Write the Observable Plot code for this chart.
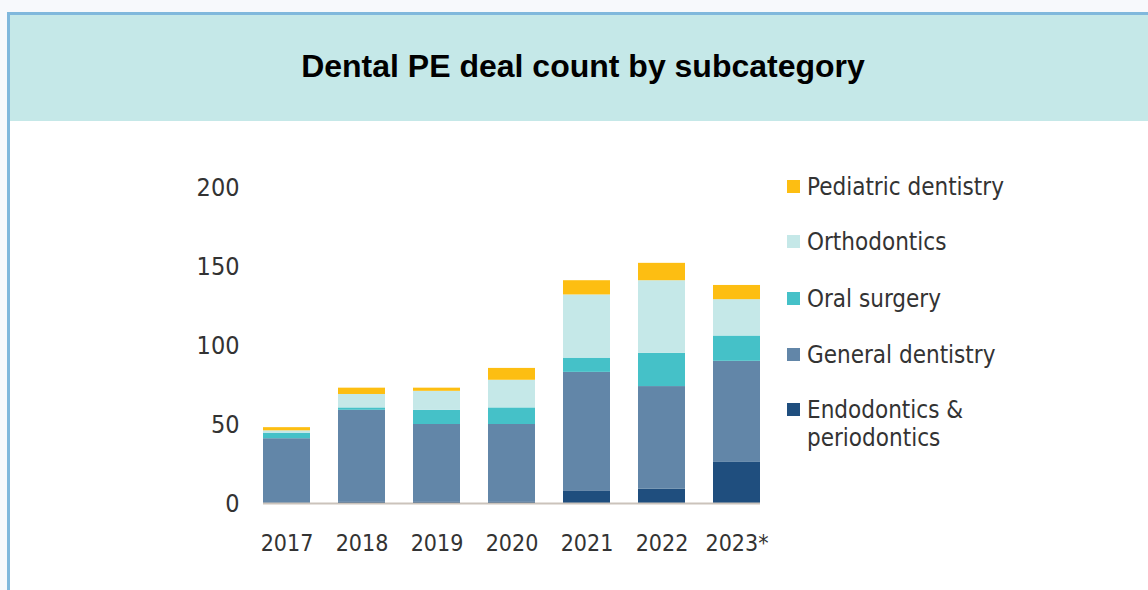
<!DOCTYPE html>
<html>
<head>
<meta charset="utf-8">
<script src="https://cdn.jsdelivr.net/npm/d3@7"></script>
<script src="https://cdn.jsdelivr.net/npm/@observablehq/plot@0.6"></script>
<style>
  html, body { margin: 0; padding: 0; width: 1148px; height: 590px; overflow: hidden; background: #f7f9fc; }
  #card { position: absolute; left: 7px; top: 12px; width: 1141px; height: 578px; background: #ffffff;
          border-left: 3px solid #80b8dc; border-top: 3px solid #80b8dc; box-sizing: border-box; }
  #header { position: absolute; left: 10px; top: 15px; width: 1138px; height: 106px; background: #c5e8e8;
            display: flex; align-items: center; justify-content: center; }
  #header h1 { margin: 0; font-family: "Liberation Sans", Arial, sans-serif; font-weight: bold; font-size: 32px;
               color: #000; padding-left: 8px; padding-bottom: 4px; }
  #chart { position: absolute; left: 10px; top: 121px; }
  #legend { position: absolute; left: 787px; top: 0; font-family: "DejaVu Sans Condensed", "DejaVu Sans", sans-serif;
            font-stretch: condensed; font-size: 24px; color: #333; }
  .item { position: absolute; left: 0; white-space: nowrap; }
  .sw { position: absolute; left: 0; width: 13px; height: 13px; }
  .lb { position: absolute; left: 20px; line-height: 28px; }
</style>
</head>
<body>
<div id="card"></div>
<div id="header"><h1>Dental PE deal count by subcategory</h1></div>
<div id="chart"></div>
<div id="legend"></div>
<script>
const years = ["2017", "2018", "2019", "2020", "2021", "2022", "2023"];
const yearLabels = ["2017", "2018", "2019", "2020", "2021", "2022", "2023*"];
const categories = ["Endodontics & periodontics", "General dentistry", "Oral surgery", "Orthodontics", "Pediatric dentistry"];
const colors = ["#1f4e7e", "#6286a8", "#45c1c8", "#c5e8e8", "#fdbe12"];
const endo      = [0, 1, 1, 1, 8, 9, 26];
const general   = [41, 58, 49, 49, 75, 65, 64];
const oral      = [3.5, 1.5, 9, 10.5, 9, 21, 16];
const ortho     = [1.5, 8.5, 12, 17.5, 40, 46, 23];
const pediatric = [2, 4, 2, 7.5, 9, 11, 9];
const yTicks = [0, 50, 100, 150, 200];
const legendOrder = ["Pediatric dentistry", "Orthodontics", "Oral surgery", "General dentistry", "Endodontics & periodontics"];
const legendLabels = ["Pediatric dentistry", "Orthodontics", "Oral surgery", "General dentistry", "Endodontics &\nperiodontics"];

const series = [endo, general, oral, ortho, pediatric];
const data = [];
years.forEach((yr, i) => categories.forEach((c, j) => data.push({year: yr, cat: c, value: series[j][i]})));

const labelOf = Object.fromEntries(years.map((y, i) => [y, yearLabels[i]]));
const axisFont = "'DejaVu Sans Condensed', 'DejaVu Sans', sans-serif";

const chart = Plot.plot({
  width: 1138,
  height: 469,
  marginLeft: 225,
  marginRight: 360,
  marginTop: 66,
  marginBottom: 87,
  style: {background: "transparent", overflow: "visible"},
  x: {domain: years, padding: 0.37, axis: null, label: null},
  y: {domain: [0, 200], axis: null, label: null},
  color: {domain: categories, range: colors},
  marks: [
    Plot.barY(data, {x: "year", y: "value", fill: "cat", order: categories}),
    Plot.ruleY([0], {stroke: "#cbc3bb", strokeWidth: 2, insetLeft: 28, insetRight: 28}),
    Plot.axisY({ticks: yTicks, tickSize: 0, tickPadding: 0, dx: 4, fontSize: 25, label: null,
                fontFamily: axisFont, fontStretch: "condensed", fill: "#333"}),
    Plot.axisX({tickSize: 0, tickPadding: 31, fontSize: 23, label: null, tickFormat: d => labelOf[d],
                fontFamily: axisFont, fontStretch: "condensed", fill: "#333"})
  ]
});
document.getElementById("chart").appendChild(chart);

const legend = document.getElementById("legend");
const centers = [187, 242, 299, 355, 410];
legendOrder.forEach((c, i) => {
  const col = colors[categories.indexOf(c)];
  const item = document.createElement("div");
  item.className = "item";
  item.style.top = (centers[i] - 14) + "px";
  const sw = document.createElement("div");
  sw.className = "sw";
  sw.style.background = col;
  sw.style.top = "7px";
  const lb = document.createElement("div");
  lb.className = "lb";
  lb.innerHTML = legendLabels[i].replace("&", "&amp;").replace("\n", "<br>");
  item.appendChild(sw);
  item.appendChild(lb);
  legend.appendChild(item);
});
</script>
</body>
</html>
